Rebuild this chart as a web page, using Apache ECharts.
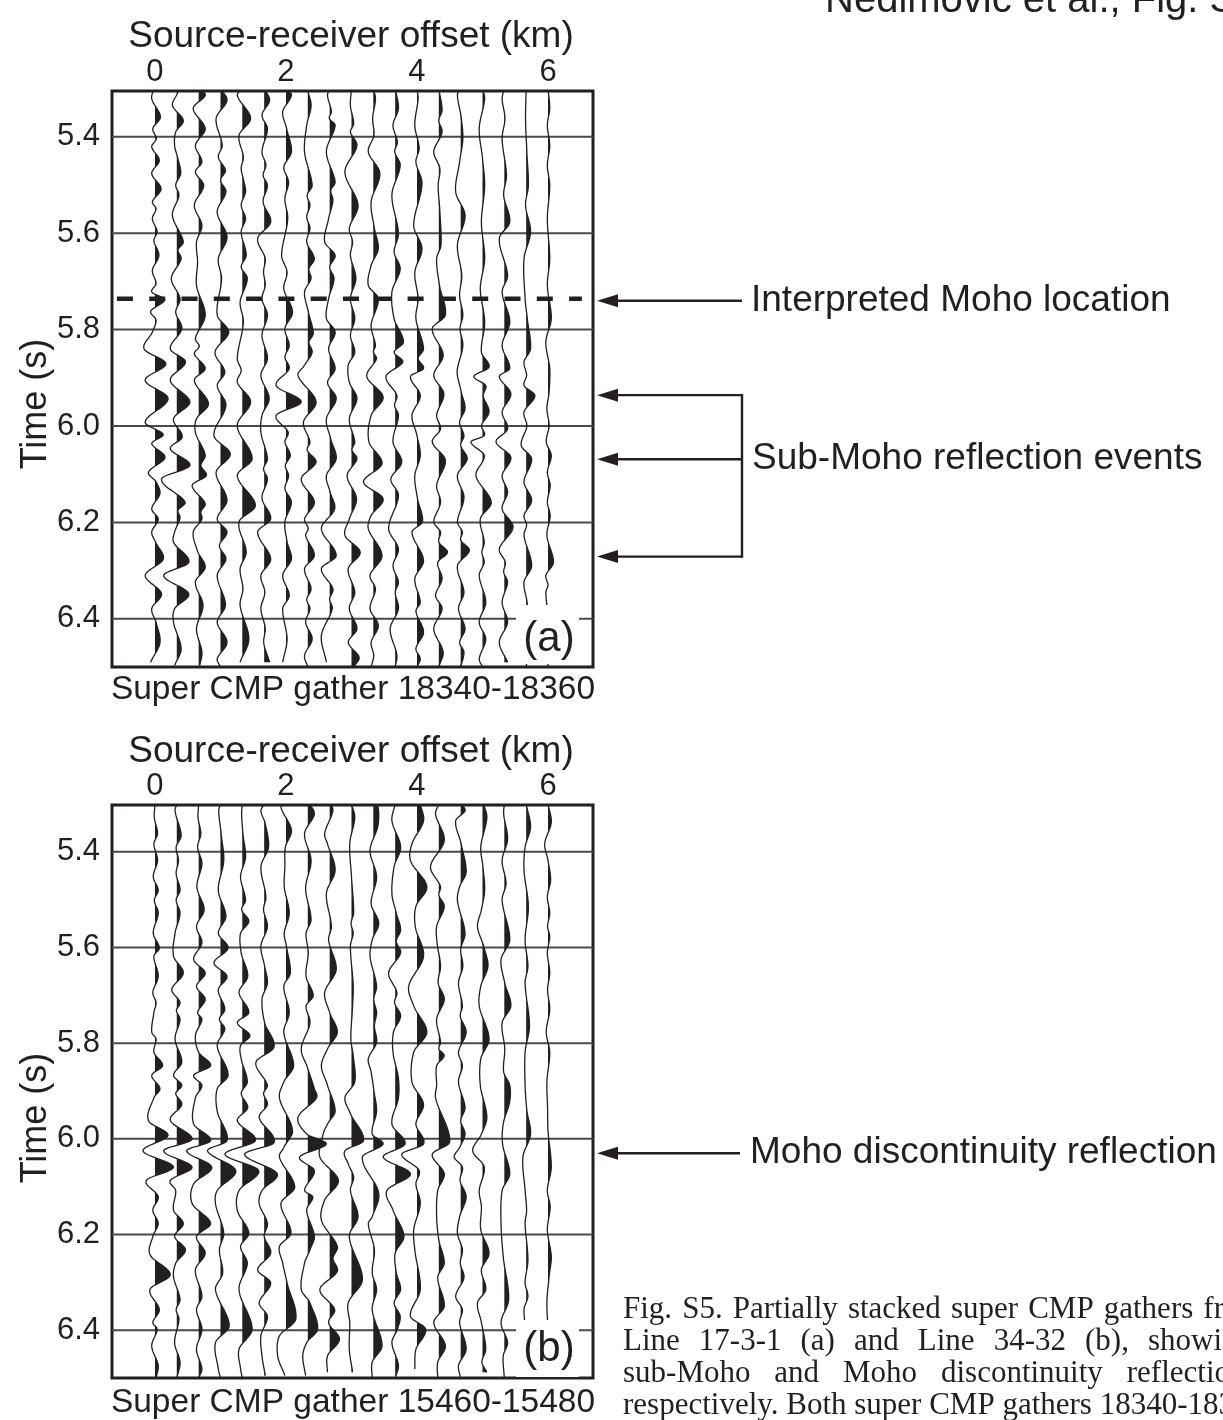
<!DOCTYPE html>
<html><head><meta charset="utf-8">
<script src="https://cdn.jsdelivr.net/npm/echarts@6/dist/echarts.min.js"></script>
<style>html,body{margin:0;padding:0;background:#fff}#c{width:1223px;height:1420px}</style>
</head><body><div id="c"></div>
<script>
// ---------- data ----------
const offsetTicks = [0, 2, 4, 6];                 // km
const timeTicks = [5.4, 5.6, 5.8, 6.0, 6.2, 6.4];   // s
const traceOffsets = [0, 0.333, 0.667, 1, 1.333, 1.667, 2, 2.333, 2.667, 3, 3.333, 3.667, 4, 4.333, 4.667, 5, 5.333, 5.667, 6];
const mohoPickA = 5.736;                 // interpreted Moho (dashed line, panel a)
const subMohoEventsA = [5.936, 6.069, 6.271];
const mohoReflectionB = 6.03;

// each trace: [time (s), amplitude (in trace spacings, +right)]
const A0=[[5.30,-0.05],[5.321,-0.15],[5.359,0.25],[5.383,-0.1],[5.404,0.06],[5.421,-0.15],[5.449,0.2],[5.476,-0.15],[5.508,0.28],[5.535,-0.12],[5.549,0.05],[5.570,-0.12],[5.597,0.1],[5.615,-0.05],[5.646,0.18],[5.677,-0.12],[5.705,0.05],[5.722,-0.15],[5.738,0.45],[5.762,-0.2],[5.780,0.05],[5.805,-0.12],[5.840,-0.5],[5.871,0.5],[5.905,-0.45],[5.943,0.6],[5.992,-0.45],[6.018,0.38],[6.036,-0.15],[6.065,0.46],[6.096,-0.3],[6.116,0.05],[6.14,0.23],[6.172,-0.15],[6.193,0.15],[6.22,-0.15],[6.241,0.03],[6.276,0.38],[6.31,-0.45],[6.348,0.3],[6.379,-0.15],[6.407,0.05],[6.449,0.23],[6.49,-0.2]];
const A1=[[5.30,0.0],[5.307,0.05],[5.335,-0.2],[5.366,0.3],[5.39,-0.05],[5.418,-0.1],[5.445,0.05],[5.476,0.18],[5.50,-0.05],[5.521,0.1],[5.563,-0.2],[5.618,0.3],[5.635,0.05],[5.653,0.2],[5.694,-0.25],[5.736,0.15],[5.764,-0.05],[5.798,0.23],[5.840,-0.3],[5.867,0.4],[5.905,-0.3],[5.950,0.6],[5.985,-0.15],[6.023,0.25],[6.047,-0.3],[6.082,0.6],[6.11,-0.7],[6.158,0.38],[6.175,0.05],[6.19,0.15],[6.22,-0.1],[6.241,-0.15],[6.283,0.55],[6.31,-0.6],[6.348,0.55],[6.379,-0.1],[6.407,-0.15],[6.462,0.2],[6.497,-0.1]];
const A2=[[5.30,0.1],[5.314,0.3],[5.341,-0.25],[5.383,0.3],[5.418,-0.15],[5.452,0.15],[5.473,-0.15],[5.501,0.23],[5.542,-0.2],[5.584,0.15],[5.618,-0.1],[5.66,-0.05],[5.708,-0.1],[5.770,0.3],[5.819,-0.15],[5.835,0.03],[5.850,-0.2],[5.881,0.3],[5.905,-0.2],[5.954,0.45],[5.985,-0.1],[6.013,-0.15],[6.061,0.3],[6.082,0.1],[6.103,0.35],[6.123,-0.3],[6.161,0.3],[6.178,0.1],[6.193,0.15],[6.22,-0.25],[6.26,-0.05],[6.293,0.3],[6.324,-0.15],[6.372,0.2],[6.421,-0.1],[6.469,0.15],[6.497,0.05]];
const A3=[[5.30,0.0],[5.324,0.3],[5.362,-0.2],[5.418,0.08],[5.442,-0.1],[5.470,0.23],[5.49,0.0],[5.514,0.25],[5.556,-0.15],[5.608,0.3],[5.653,-0.1],[5.694,0.05],[5.770,-0.15],[5.805,0.38],[5.847,-0.25],[5.888,0.2],[5.916,-0.15],[5.957,0.25],[6.020,-0.3],[6.058,0.45],[6.096,-0.2],[6.154,0.3],[6.193,-0.15],[6.22,0.3],[6.248,-0.05],[6.276,0.25],[6.31,-0.15],[6.372,0.23],[6.407,-0.15],[6.449,0.3],[6.483,-0.15],[6.50,0.0]];
const A4=[[5.30,0.0],[5.314,-0.23],[5.362,0.38],[5.397,-0.15],[5.442,0.05],[5.466,-0.05],[5.494,0.08],[5.514,0.15],[5.542,-0.05],[5.570,0.15],[5.597,-0.05],[5.646,0.18],[5.67,-0.05],[5.694,0.23],[5.743,-0.1],[5.784,0.05],[5.860,-0.23],[5.885,-0.05],[5.909,-0.23],[5.950,0.38],[5.999,-0.23],[6.068,0.45],[6.103,-0.23],[6.165,0.6],[6.199,-0.15],[6.262,0.18],[6.296,-0.1],[6.338,0.03],[6.372,-0.1],[6.442,0.3],[6.490,-0.1]];
const A5=[[5.30,0.0],[5.324,0.25],[5.355,-0.1],[5.383,0.15],[5.431,-0.1],[5.459,0.08],[5.48,-0.05],[5.501,0.15],[5.535,-0.05],[5.577,0.3],[5.611,-0.3],[5.653,0.05],[5.68,-0.03],[5.708,0.05],[5.736,-0.1],[5.770,0.15],[5.812,-0.1],[5.860,0.15],[5.895,-0.15],[5.943,0.23],[5.978,-0.1],[6.013,-0.15],[6.068,0.15],[6.089,-0.03],[6.11,0.15],[6.15,-0.1],[6.193,0.3],[6.22,-0.3],[6.276,0.3],[6.31,-0.15],[6.345,0.03],[6.379,-0.15],[6.42,0.05],[6.45,-0.02],[6.490,0.25]];
const A6=[[5.30,0.05],[5.314,0.25],[5.348,-0.15],[5.383,0.03],[5.431,0.25],[5.463,-0.1],[5.494,0.12],[5.528,-0.05],[5.570,0.08],[5.646,-0.2],[5.681,0.05],[5.715,-0.1],[5.764,0.3],[5.798,-0.05],[5.833,0.15],[5.857,-0.05],[5.881,0.15],[5.916,-0.45],[5.950,0.7],[5.978,-0.45],[6.013,0.1],[6.033,-0.05],[6.061,0.2],[6.082,-0.03],[6.103,0.12],[6.130,-0.05],[6.158,0.25],[6.199,-0.05],[6.24,0.05],[6.276,0.25],[6.31,-0.15],[6.352,0.15],[6.379,-0.15],[6.442,0.05],[6.490,-0.15]];
const A7=[[5.30,-0.03],[5.335,0.15],[5.376,-0.05],[5.431,-0.15],[5.501,0.2],[5.521,-0.03],[5.542,0.1],[5.566,-0.05],[5.590,0.1],[5.618,-0.05],[5.653,0.3],[5.674,0.05],[5.694,0.15],[5.722,-0.15],[5.764,0.03],[5.808,0.25],[5.826,0.05],[5.847,0.2],[5.874,-0.15],[5.895,-0.45],[5.950,0.38],[5.992,-0.2],[6.033,0.1],[6.05,-0.03],[6.075,0.38],[6.11,-0.3],[6.158,0.3],[6.193,-0.15],[6.213,0.02],[6.227,-0.1],[6.269,0.3],[6.296,-0.15],[6.338,0.15],[6.36,-0.05],[6.379,0.1],[6.407,-0.1],[6.442,0.2],[6.476,-0.15],[6.50,0.0]];
const A8=[[5.30,0.0],[5.314,-0.1],[5.348,0.08],[5.362,-0.02],[5.376,0.25],[5.431,-0.15],[5.494,0.25],[5.511,0.05],[5.532,0.15],[5.570,-0.05],[5.618,-0.23],[5.646,0.25],[5.670,0.0],[5.694,0.2],[5.736,-0.05],[5.777,-0.15],[5.805,0.25],[5.840,-0.05],[5.881,0.25],[5.910,-0.1],[5.943,0.3],[5.985,-0.15],[6.027,0.05],[6.068,0.3],[6.103,-0.15],[6.137,0.02],[6.172,0.23],[6.213,-0.38],[6.269,0.3],[6.296,-0.38],[6.338,0.15],[6.359,0.0],[6.379,0.12],[6.435,-0.38],[6.490,-0.15]];
const A9=[[5.30,0.0],[5.335,-0.05],[5.373,0.1],[5.390,-0.05],[5.418,0.25],[5.473,-0.3],[5.542,0.3],[5.590,-0.1],[5.618,0.05],[5.646,-0.05],[5.694,0.2],[5.736,-0.05],[5.777,0.15],[5.812,-0.05],[5.847,0.15],[5.874,-0.15],[5.909,-0.1],[5.943,0.25],[5.985,-0.1],[6.033,0.15],[6.05,0.02],[6.068,0.25],[6.103,-0.2],[6.151,0.23],[6.193,-0.1],[6.227,-0.3],[6.262,0.4],[6.296,-0.15],[6.345,0.15],[6.379,-0.1],[6.421,0.25],[6.449,-0.15],[6.48,0.35],[6.50,0.1]];
const A10=[[5.30,0.0],[5.321,0.1],[5.362,-0.03],[5.397,0.03],[5.431,-0.23],[5.476,0.3],[5.535,-0.1],[5.590,0.05],[5.632,0.23],[5.667,-0.1],[5.708,-0.23],[5.736,0.23],[5.791,-0.1],[5.833,0.1],[5.847,0.0],[5.860,0.15],[5.897,-0.3],[5.940,0.45],[5.978,-0.1],[6.033,-0.2],[6.078,0.4],[6.116,-0.45],[6.151,0.45],[6.186,-0.1],[6.213,-0.23],[6.269,0.4],[6.31,-0.15],[6.338,0.1],[6.379,-0.15],[6.414,0.23],[6.449,-0.1],[6.476,0.02],[6.50,-0.1]];
const A11=[[5.30,0.0],[5.341,0.15],[5.376,-0.1],[5.411,0.1],[5.431,-0.02],[5.459,0.23],[5.521,-0.15],[5.601,0.15],[5.639,-0.05],[5.674,0.23],[5.722,-0.15],[5.777,-0.05],[5.826,0.38],[5.847,-0.05],[5.867,0.35],[5.897,-0.42],[5.937,0.08],[5.957,-0.03],[5.978,0.15],[6.033,-0.1],[6.075,0.3],[6.11,-0.2],[6.144,0.15],[6.213,-0.3],[6.255,0.15],[6.29,-0.1],[6.324,0.15],[6.345,0.0],[6.379,0.15],[6.421,-0.23],[6.476,0.08],[6.50,0.0]];
const A12=[[5.30,0.0],[5.321,0.05],[5.376,-0.1],[5.424,0.1],[5.452,-0.05],[5.497,0.23],[5.584,-0.15],[5.632,0.23],[5.681,-0.1],[5.736,0.05],[5.777,-0.05],[5.840,0.3],[5.860,0.05],[5.881,0.3],[5.897,-0.3],[5.937,0.15],[5.978,-0.23],[6.02,0.0],[6.061,0.15],[6.103,-0.1],[6.15,0.02],[6.199,0.25],[6.22,-0.23],[6.279,0.3],[6.317,-0.1],[6.366,0.15],[6.384,-0.05],[6.428,0.3],[6.462,-0.05],[6.483,0.15],[6.50,0.0]];
const A13=[[5.30,0.0],[5.345,0.15],[5.366,0.0],[5.390,0.15],[5.431,-0.23],[5.466,0.05],[5.501,-0.03],[5.556,0.05],[5.625,0.1],[5.653,-0.1],[5.708,0.03],[5.770,0.3],[5.798,-0.3],[5.853,0.2],[5.895,-0.23],[5.933,0.23],[5.978,-0.1],[6.006,0.08],[6.033,-0.3],[6.071,0.3],[6.123,-0.1],[6.158,0.08],[6.199,-0.23],[6.22,0.08],[6.241,0.0],[6.262,0.4],[6.283,-0.05],[6.317,0.15],[6.352,-0.15],[6.379,0.15],[6.421,-0.23],[6.469,0.2],[6.50,0.0]];
const A14=[[5.30,-0.05],[5.314,-0.15],[5.362,0.03],[5.404,0.1],[5.452,-0.05],[5.514,-0.23],[5.563,0.2],[5.625,-0.15],[5.688,0.05],[5.729,-0.05],[5.770,0.1],[5.798,-0.03],[5.833,0.1],[5.881,-0.15],[5.895,-0.15],[5.93,0.03],[5.964,0.2],[5.992,-0.05],[6.020,0.15],[6.040,0.0],[6.068,0.3],[6.103,-0.15],[6.148,0.15],[6.199,-0.15],[6.22,0.08],[6.237,0.0],[6.258,0.4],[6.29,-0.15],[6.345,0.15],[6.379,-0.1],[6.421,0.2],[6.449,-0.05],[6.469,0.15],[6.50,0.0]];
const A15=[[5.30,0.0],[5.321,0.1],[5.383,-0.15],[5.445,0.0],[5.501,0.1],[5.577,-0.05],[5.653,0.1],[5.715,-0.1],[5.784,0.1],[5.847,-0.05],[5.878,0.3],[5.897,-0.4],[5.916,0.15],[5.937,0.03],[5.971,0.3],[5.999,-0.05],[6.020,0.08],[6.033,-0.53],[6.061,0.08],[6.103,-0.3],[6.158,0.4],[6.193,-0.1],[6.241,0.08],[6.262,-0.03],[6.283,0.08],[6.31,-0.15],[6.366,0.15],[6.407,-0.15],[6.442,0.15],[6.483,-0.15],[6.50,0.0]];
const A16=[[5.30,0.0],[5.321,-0.1],[5.362,0.03],[5.404,-0.1],[5.480,0.1],[5.521,-0.03],[5.577,0.25],[5.611,-0.23],[5.688,0.15],[5.722,-0.1],[5.784,0.25],[5.833,-0.1],[5.881,0.25],[5.897,-0.23],[5.933,0.3],[5.971,-0.1],[6.006,0.15],[6.033,-0.38],[6.065,0.3],[6.103,-0.1],[6.137,0.15],[6.172,-0.1],[6.21,0.4],[6.255,-0.23],[6.283,0.05],[6.303,-0.03],[6.324,0.15],[6.366,-0.1],[6.407,0.15],[6.449,-0.23],[6.490,0.15]];
const A17=[[5.30,0.0],[5.362,-0.03],[5.431,0.03],[5.501,0.1],[5.542,-0.03],[5.597,0.2],[5.653,-0.1],[5.736,-0.05],[5.777,0.05],[5.840,0.2],[5.867,-0.1],[5.895,0.02],[5.916,-0.1],[5.937,0.4],[5.971,-0.1],[6.000,0.03],[6.040,-0.23],[6.068,0.25],[6.116,-0.1],[6.154,0.25],[6.186,-0.1],[6.205,0.02],[6.227,-0.1],[6.29,0.25],[6.324,-0.1],[6.372,0.05],[6.42,-0.1],[6.46,0.1],[6.50,0.0]];
const A18=[[5.30,0.0],[5.341,0.08],[5.376,-0.03],[5.418,0.08],[5.459,-0.03],[5.501,0.08],[5.570,-0.03],[5.653,0.08],[5.708,-0.03],[5.777,0.15],[5.826,-0.1],[5.881,0.08],[5.930,0.05],[5.964,-0.05],[5.999,0.05],[6.033,-0.08],[6.061,0.15],[6.096,-0.03],[6.123,0.1],[6.158,-0.03],[6.186,0.1],[6.227,-0.05],[6.283,0.25],[6.31,-0.1],[6.33,0.0],[6.345,-0.1],[6.40,0.02],[6.45,0.05],[6.50,0.0]];

const B0=[[5.30,0.0],[5.328,-0.03],[5.362,0.12],[5.383,-0.05],[5.418,0.12],[5.452,-0.08],[5.480,0.15],[5.501,-0.03],[5.528,0.15],[5.570,-0.08],[5.601,0.2],[5.618,-0.05],[5.660,0.15],[5.694,-0.1],[5.715,0.05],[5.736,-0.05],[5.777,-0.15],[5.791,0.05],[5.819,-0.05],[5.847,0.35],[5.867,-0.15],[5.895,0.23],[5.914,-0.05],[5.962,-0.3],[5.993,0.6],[6.025,-0.55],[6.059,0.85],[6.087,-0.4],[6.121,0.15],[6.149,-0.1],[6.177,0.15],[6.204,-0.1],[6.242,-0.23],[6.284,0.7],[6.315,-0.23],[6.357,0.2],[6.384,-0.1],[6.398,0.1],[6.433,-0.15],[6.474,0.15],[6.50,0.05]];
const B1=[[5.30,0.0],[5.314,-0.08],[5.366,0.2],[5.390,-0.03],[5.418,0.08],[5.445,-0.03],[5.480,0.15],[5.501,-0.03],[5.528,0.15],[5.570,-0.08],[5.618,-0.15],[5.653,0.3],[5.688,-0.23],[5.715,0.15],[5.732,-0.02],[5.750,0.15],[5.791,-0.08],[5.840,0.23],[5.867,-0.15],[5.888,0.23],[5.905,-0.05],[5.928,0.23],[5.961,-0.3],[6.001,0.7],[6.025,-0.6],[6.059,0.7],[6.087,-0.3],[6.108,-0.05],[6.149,-0.15],[6.177,0.3],[6.204,-0.1],[6.232,0.4],[6.26,-0.05],[6.288,-0.15],[6.336,0.15],[6.357,-0.03],[6.377,0.1],[6.426,-0.1],[6.467,0.15],[6.50,0.0]];
const B2=[[5.30,0.0],[5.328,-0.03],[5.362,0.1],[5.390,-0.05],[5.424,0.15],[5.473,-0.08],[5.521,0.25],[5.556,-0.1],[5.590,0.15],[5.625,-0.23],[5.653,0.3],[5.681,-0.1],[5.708,0.3],[5.736,-0.05],[5.750,0.15],[5.784,-0.15],[5.819,0.0],[5.847,0.55],[5.867,-0.23],[5.888,0.15],[5.914,-0.15],[5.969,-0.23],[6.004,0.55],[6.025,-0.55],[6.059,0.6],[6.094,-0.23],[6.135,-0.3],[6.177,0.55],[6.204,-0.1],[6.239,0.3],[6.274,-0.15],[6.329,0.15],[6.357,-0.1],[6.398,0.15],[6.44,-0.1],[6.481,0.15],[6.50,0.0]];
const B3=[[5.30,0.0],[5.314,-0.08],[5.362,0.03],[5.418,0.15],[5.480,-0.1],[5.535,0.25],[5.570,-0.1],[5.601,0.35],[5.632,-0.3],[5.660,0.3],[5.688,-0.1],[5.729,0.2],[5.750,-0.05],[5.770,0.2],[5.805,-0.15],[5.867,0.35],[5.895,-0.15],[5.942,-0.15],[6.004,0.3],[6.025,-0.6],[6.066,0.7],[6.108,-0.15],[6.135,-0.23],[6.197,0.15],[6.232,-0.05],[6.281,0.1],[6.315,-0.23],[6.391,0.4],[6.426,-0.23],[6.481,-0.1],[6.50,0.0]];
const B4=[[5.30,0.0],[5.321,-0.03],[5.362,0.03],[5.411,0.15],[5.452,-0.08],[5.501,0.15],[5.521,-0.03],[5.545,0.3],[5.570,-0.08],[5.611,-0.05],[5.660,0.25],[5.694,-0.15],[5.736,0.3],[5.757,-0.23],[5.784,0.35],[5.805,-0.08],[5.833,-0.05],[5.881,0.23],[5.905,-0.05],[5.935,0.25],[5.962,-0.23],[6.004,0.6],[6.032,-0.8],[6.066,0.75],[6.108,-0.15],[6.149,-0.23],[6.197,0.3],[6.225,-0.08],[6.26,0.23],[6.315,-0.15],[6.398,0.45],[6.44,-0.15],[6.481,-0.08],[6.50,0.0]];
const B5=[[5.30,0.0],[5.314,-0.15],[5.341,0.05],[5.390,0.2],[5.431,-0.15],[5.494,0.08],[5.521,-0.03],[5.556,0.15],[5.597,-0.15],[5.639,0.02],[5.674,0.15],[5.708,-0.1],[5.757,0.02],[5.808,0.45],[5.840,-0.38],[5.888,0.15],[5.905,-0.03],[5.928,0.15],[5.955,-0.23],[6.008,0.45],[6.032,-0.9],[6.073,0.6],[6.108,-0.1],[6.135,-0.23],[6.177,0.15],[6.204,0.0],[6.239,0.3],[6.274,-0.3],[6.301,0.3],[6.343,-0.23],[6.371,0.15],[6.412,-0.15],[6.454,-0.1],[6.495,0.05]];
const B6=[[5.30,-0.1],[5.307,-0.23],[5.355,0.25],[5.390,-0.03],[5.431,-0.05],[5.473,-0.08],[5.528,0.15],[5.570,-0.08],[5.597,0.02],[5.653,0.2],[5.681,-0.1],[5.736,0.15],[5.777,-0.1],[5.847,0.35],[5.881,-0.1],[5.914,-0.3],[5.983,0.3],[6.018,-0.1],[6.038,-0.3],[6.101,0.4],[6.135,-0.23],[6.197,0.23],[6.225,-0.3],[6.26,-0.15],[6.301,0.05],[6.377,0.45],[6.412,-0.3],[6.454,-0.38],[6.495,-0.05]];
const B7=[[5.30,0.1],[5.321,0.3],[5.362,-0.15],[5.418,0.15],[5.476,-0.1],[5.542,0.15],[5.570,-0.08],[5.611,0.02],[5.660,-0.08],[5.701,0.25],[5.722,-0.08],[5.757,0.1],[5.812,-0.3],[5.853,0.0],[5.895,0.3],[5.914,0.4],[5.955,-0.45],[5.99,-0.05],[6.011,0.85],[6.038,-0.38],[6.066,0.3],[6.108,-0.15],[6.121,0.23],[6.149,-0.05],[6.204,0.3],[6.232,0.1],[6.26,-0.15],[6.315,-0.3],[6.343,0.1],[6.398,0.45],[6.426,-0.05],[6.454,-0.23],[6.495,-0.1]];
const B8=[[5.30,0.05],[5.314,0.15],[5.362,-0.23],[5.383,-0.1],[5.438,0.25],[5.487,-0.15],[5.556,0.08],[5.584,-0.05],[5.646,0.3],[5.694,-0.23],[5.736,0.0],[5.777,0.35],[5.812,-0.1],[5.847,-0.38],[5.888,-0.1],[5.942,0.25],[5.969,-0.1],[5.99,-0.3],[6.038,-0.45],[6.087,0.4],[6.128,-0.23],[6.17,-0.38],[6.225,0.35],[6.25,0.15],[6.277,0.35],[6.315,-0.45],[6.357,0.23],[6.384,-0.05],[6.419,0.45],[6.454,-0.1],[6.488,-0.1]];
const B9=[[5.30,0.0],[5.328,0.15],[5.383,-0.08],[5.452,0.0],[5.528,0.1],[5.549,-0.02],[5.570,0.08],[5.597,-0.05],[5.681,0.08],[5.722,0.05],[5.791,-0.03],[5.826,0.08],[5.881,0.15],[5.914,-0.3],[5.947,-0.05],[6.004,0.55],[6.025,-0.3],[6.052,-0.15],[6.08,0.1],[6.108,-0.05],[6.163,0.3],[6.204,-0.1],[6.294,0.5],[6.343,-0.15],[6.384,-0.08],[6.44,-0.1],[6.488,0.05]];
const B10=[[5.30,0.2],[5.321,0.25],[5.348,0.2],[5.397,-0.15],[5.452,0.15],[5.508,-0.1],[5.549,0.25],[5.584,-0.05],[5.618,-0.15],[5.681,0.15],[5.708,0.02],[5.736,0.15],[5.764,0.05],[5.798,0.15],[5.833,-0.23],[5.860,-0.1],[5.90,0.03],[5.942,0.15],[5.99,-0.05],[6.011,0.45],[6.038,-0.5],[6.114,0.25],[6.163,-0.05],[6.177,-0.23],[6.232,0.05],[6.28,-0.05],[6.315,0.15],[6.357,-0.05],[6.433,0.4],[6.467,-0.05],[6.50,-0.05]];
const B11=[[5.30,0.0],[5.335,-0.15],[5.390,0.25],[5.431,-0.05],[5.487,-0.15],[5.528,0.05],[5.563,0.25],[5.587,0.05],[5.611,0.25],[5.653,-0.3],[5.694,0.08],[5.715,-0.03],[5.743,0.25],[5.777,-0.08],[5.819,-0.1],[5.874,0.15],[5.914,0.15],[5.969,-0.15],[6.011,0.45],[6.038,-0.55],[6.073,0.7],[6.108,-0.38],[6.149,-0.1],[6.204,0.4],[6.239,0.0],[6.28,0.05],[6.315,0.25],[6.343,-0.05],[6.371,0.23],[6.398,0.1],[6.426,-0.15],[6.474,0.15],[6.50,0.0]];
const B12=[[5.30,0.15],[5.335,0.3],[5.383,-0.23],[5.418,-0.3],[5.473,0.45],[5.514,-0.05],[5.556,-0.08],[5.618,0.3],[5.681,-0.38],[5.722,-0.15],[5.777,0.45],[5.819,-0.15],[5.881,-0.23],[5.928,0.3],[5.969,-0.05],[6.011,0.3],[6.032,-0.7],[6.066,0.1],[6.094,-0.05],[6.135,0.15],[6.19,-0.15],[6.232,-0.1],[6.315,0.15],[6.371,-0.3],[6.398,0.4],[6.44,-0.05],[6.481,-0.1]];
const B13=[[5.30,0.0],[5.321,-0.15],[5.376,0.25],[5.431,-0.38],[5.473,0.08],[5.49,0.0],[5.514,0.25],[5.556,-0.1],[5.590,-0.08],[5.639,0.08],[5.674,-0.03],[5.708,0.25],[5.750,-0.1],[5.798,0.08],[5.812,0.0],[5.826,0.25],[5.847,-0.1],[5.888,-0.1],[5.914,-0.15],[6.007,0.5],[6.032,-0.3],[6.073,0.25],[6.108,-0.05],[6.163,-0.1],[6.211,0.0],[6.26,0.25],[6.29,-0.05],[6.35,0.25],[6.384,-0.23],[6.433,0.3],[6.467,-0.05],[6.50,-0.05]];
const B14=[[5.30,0.05],[5.314,0.2],[5.335,-0.23],[5.383,0.02],[5.442,0.25],[5.473,-0.05],[5.501,-0.15],[5.570,0.2],[5.604,0.0],[5.639,0.1],[5.674,-0.1],[5.722,0.08],[5.743,-0.02],[5.777,0.25],[5.819,-0.1],[5.847,0.08],[5.881,-0.1],[5.935,0.2],[5.962,0.0],[5.99,0.2],[6.018,-0.05],[6.038,-0.3],[6.059,0.08],[6.087,-0.03],[6.121,0.25],[6.163,-0.05],[6.197,-0.15],[6.232,0.08],[6.26,-0.02],[6.29,0.15],[6.329,-0.23],[6.357,0.08],[6.384,-0.05],[6.44,0.25],[6.474,-0.1],[6.50,0.0]];
const B15=[[5.30,0.05],[5.328,0.2],[5.390,-0.08],[5.431,0.02],[5.480,0.1],[5.521,-0.05],[5.556,-0.23],[5.597,0.05],[5.639,0.25],[5.681,-0.08],[5.722,-0.15],[5.791,0.3],[5.833,-0.08],[5.888,-0.1],[5.955,0.2],[5.99,-0.05],[6.025,-0.45],[6.059,0.08],[6.108,-0.15],[6.142,-0.05],[6.19,-0.08],[6.239,0.3],[6.274,-0.05],[6.315,0.15],[6.343,-0.23],[6.384,-0.05],[6.44,0.15],[6.467,-0.03],[6.488,0.2]];
const B16=[[5.30,0.0],[5.321,-0.03],[5.373,0.15],[5.418,-0.1],[5.466,0.08],[5.501,-0.1],[5.584,0.25],[5.625,-0.15],[5.674,0.02],[5.722,0.3],[5.757,-0.1],[5.812,0.02],[5.860,-0.03],[5.888,0.25],[5.921,0.25],[5.969,-0.05],[6.011,-0.08],[6.073,0.25],[6.108,-0.1],[6.177,-0.15],[6.246,-0.05],[6.336,0.2],[6.384,-0.15],[6.426,0.15],[6.454,-0.05],[6.50,0.0]];
const B17=[[5.30,0.0],[5.348,0.2],[5.390,-0.05],[5.438,-0.1],[5.514,0.1],[5.584,-0.05],[5.639,0.08],[5.674,-0.05],[5.764,0.15],[5.819,-0.05],[5.888,-0.05],[5.94,0.03],[5.990,0.2],[6.038,-0.15],[6.108,-0.05],[6.15,0.02],[6.177,-0.05],[6.253,0.08],[6.301,-0.05],[6.329,0.08],[6.357,-0.1],[6.42,0.02],[6.50,0.0]];
const B18=[[5.30,0.0],[5.338,0.15],[5.383,-0.15],[5.418,0.0],[5.459,0.12],[5.494,-0.03],[5.528,0.08],[5.556,-0.02],[5.577,0.08],[5.611,-0.03],[5.653,0.08],[5.688,-0.02],[5.729,0.08],[5.777,-0.08],[5.819,0.08],[5.881,-0.05],[5.935,-0.02],[5.983,0.0],[6.059,0.15],[6.108,-0.03],[6.142,0.1],[6.19,-0.03],[6.246,0.15],[6.288,0.05],[6.343,-0.05],[6.42,0.02],[6.50,0.0]];

const gatherA = [A0,A1,A2,A3,A4,A5,A6,A7,A8,A9,A10,A11,A12,A13,A14,A15,A16,A17,A18];
const gatherB = [B0,B1,B2,B3,B4,B5,B6,B7,B8,B9,B10,B11,B12,B13,B14,B15,B16,B17,B18];

const captionLines = [
  "Fig. S5. Partially stacked super CMP gathers fr",
  "Line 17-3-1 (a) and Line 34-32 (b), showi",
  "sub-Moho and Moho discontinuity reflectio",
  "respectively. Both super CMP gathers 18340-183"
];

// ---------- rendering ----------
const INK = '#231f20';
const SANS = '"Liberation Sans", Arial, Helvetica, sans-serif';
const SERIF = '"Liberation Serif", "Times New Roman", serif';
const SPACING = 1 / 3;           // trace spacing, km
const X_MIN = -0.656, X_MAX = 6.687;
const TENSION = 0.9;

// smooth drawing path through the projected points (x as a function of y)
function smoothPath(P) {
  const n = P.length, out = [];
  const m = P.map((p, k) => {
    const a = P[Math.max(0, k - 1)], b = P[Math.min(n - 1, k + 1)];
    const dy = b[1] - a[1];
    return dy ? TENSION * (b[0] - a[0]) / dy : 0;
  });
  for (let k = 0; k < n - 1; k++) {
    const y0 = P[k][1], y1 = P[k + 1][1], h = y1 - y0;
    const x0 = P[k][0], x1 = P[k + 1][0];
    const steps = Math.max(2, Math.ceil(Math.abs(h) / 1.5));
    for (let s = 0; s < steps; s++) {
      const u = s / steps, u2 = u * u, u3 = u2 * u;
      const x = (2 * u3 - 3 * u2 + 1) * x0 + (u3 - 2 * u2 + u) * h * m[k] + (-2 * u3 + 3 * u2) * x1 + (u3 - u2) * h * m[k + 1];
      out.push([x, y0 + u * h]);
    }
  }
  out.push(P[n - 1]);
  return out;
}

function makeRender(traces) {
  return function (params, api) {
    const i = params.dataIndex;
    const x0 = api.value(0);
    const tr = traces[i];
    const pts = smoothPath(tr.map(p => api.coord([x0 + p[1] * SPACING, p[0]])));
    const bx = api.coord([x0, tr[0][0]])[0];
    const children = [];
    let lobe = null;
    for (let k = 0; k < pts.length; k++) {
      const p = pts[k];
      if (p[0] > bx) {
        if (!lobe) {
          if (k > 0) {
            const q = pts[k - 1];
            const yc = q[1] + (p[1] - q[1]) * (bx - q[0]) / (p[0] - q[0]);
            lobe = [[bx, yc]];
          } else lobe = [[bx, p[1]]];
        }
        lobe.push(p);
      } else if (lobe) {
        const q = pts[k - 1];
        const yc = q[1] + (p[1] - q[1]) * (q[0] - bx) / (q[0] - p[0]);
        lobe.push([bx, yc]);
        children.push({ type: 'polygon', shape: { points: lobe }, style: { fill: INK, stroke: null } });
        lobe = null;
      }
    }
    if (lobe) {
      lobe.push([bx, pts[pts.length - 1][1]]);
      children.push({ type: 'polygon', shape: { points: lobe }, style: { fill: INK, stroke: null } });
    }
    children.push({ type: 'polyline', shape: { points: pts }, style: { stroke: INK, lineWidth: 1.3, fill: null } });
    return { type: 'group', children: children };
  };
}

const grids = [
  { left: 112, top: 91, width: 481, height: 576, show: true, borderColor: INK, borderWidth: 3, backgroundColor: 'transparent' },
  { left: 112, top: 805, width: 481, height: 573, show: true, borderColor: INK, borderWidth: 3, backgroundColor: 'transparent' }
];
const yRanges = [[5.305, 6.50], [5.302, 6.50]];

const xAxes = [0, 1].map(g => ({
  type: 'value', gridIndex: g, position: 'top', min: X_MIN, max: X_MAX,
  axisLine: { show: false }, axisTick: { show: false }, splitLine: { show: false },
  axisLabel: { customValues: offsetTicks, fontSize: 31, color: INK, fontFamily: SANS, margin: 3 }
}));
const yAxes = [0, 1].map(g => ({
  type: 'value', gridIndex: g, inverse: true, min: yRanges[g][0], max: yRanges[g][1],
  axisLine: { show: false }, axisTick: { show: false }, splitLine: { show: false },
  axisLabel: { customValues: timeTicks, fontSize: 31, color: INK, fontFamily: SANS, margin: 12,
    formatter: v => v.toFixed(1) }
}));

const series = [];
[gatherA, gatherB].forEach((gather, g) => {
  timeTicks.forEach(t => {
    series.push({
      type: 'line', xAxisIndex: g, yAxisIndex: g, silent: true, showSymbol: false, z: 1,
      data: [[X_MIN, t], [X_MAX, t]],
      lineStyle: { color: '#4a4a4a', width: 2 }
    });
  });
  series.push({
    type: 'custom', xAxisIndex: g, yAxisIndex: g, clip: true, silent: true, z: 3,
    renderItem: makeRender(gather),
    encode: { x: 0, y: 1 },
    data: traceOffsets.map((o, i) => [o, gather[i][0][0]])
  });
});
series.push({
  type: 'line', xAxisIndex: 0, yAxisIndex: 0, silent: true, showSymbol: false, z: 5,
  data: [[X_MIN + 0.075, mohoPickA], [X_MAX - 0.17, mohoPickA]],
  lineStyle: { color: INK, width: 4.5, type: [16, 16.3] }
});

const chart = echarts.init(document.getElementById('c'), null, { renderer: 'canvas' });
chart.setOption({
  animation: false,
  backgroundColor: '#fff',
  grid: grids, xAxis: xAxes, yAxis: yAxes, series: series
});

// ---------- annotations ----------
function txt(text, x, y, size, opts) {
  opts = opts || {};
  return {
    type: 'text', z: 100, x: x, y: y, rotation: opts.rotation || 0,
    style: { text: text, x: 0, y: 0, fill: INK, font: (size) + 'px ' + (opts.family || SANS),
      align: opts.align || 'center', verticalAlign: 'middle',
      textAlign: opts.align || 'center', textVerticalAlign: 'middle' }
  };
}
function arrow(y, xTip, xEnd) {
  return [
    { type: 'line', z: 100, shape: { x1: xTip + 12, y1: y, x2: xEnd, y2: y }, style: { stroke: INK, lineWidth: 2.4 } },
    { type: 'polygon', z: 100, shape: { points: [[xTip, y], [xTip + 21, y - 6.5], [xTip + 21, y + 6.5]] }, style: { fill: INK } }
  ];
}
const yA = t => chart.convertToPixel({ yAxisIndex: 0 }, t);
const yB = t => chart.convertToPixel({ yAxisIndex: 1 }, t);

const g = [];
g.push(txt('Nedimovic et al., Fig. S', 825, 1, 40, { align: 'left' }));
// panel a labels
g.push(txt('Source-receiver offset (km)', 351, 37, 37));
g.push(txt('Super CMP gather 18340-18360', 353, 690, 33.5));
g.push(txt('Time (s)', 36, 404, 36, { rotation: Math.PI / 2 }));
// panel b labels
g.push(txt('Source-receiver offset (km)', 351, 752, 37));
g.push(txt('Super CMP gather 15460-15480', 353, 1403, 33.5));
g.push(txt('Time (s)', 36, 1118, 36, { rotation: Math.PI / 2 }));
// (a), (b) boxes
g.push({ type: 'rect', z: 99, shape: { x: 516, y: 605, width: 63, height: 59 }, style: { fill: '#fff' } });
g.push(txt('(a)', 549, 639, 42));
g.push({ type: 'rect', z: 99, shape: { x: 516, y: 1320, width: 63, height: 57 }, style: { fill: '#fff' } });
g.push(txt('(b)', 549, 1349, 42));
// arrows
const yMoho = yA(mohoPickA) + 2;
g.push(...arrow(yMoho, 597, 742));
g.push(txt('Interpreted Moho location', 751, yMoho, 37, { align: 'left' }));
const subYs = subMohoEventsA.map(yA);
subYs.forEach(y => g.push(...arrow(y, 597, 742)));
g.push({ type: 'line', z: 100, shape: { x1: 742, y1: subYs[0] - 1.2, x2: 742, y2: subYs[2] + 1.2 }, style: { stroke: INK, lineWidth: 2.4 } });
g.push(txt('Sub-Moho reflection events', 752, subYs[1], 37, { align: 'left' }));
const yMb = yB(mohoReflectionB);
g.push(...arrow(yMb, 597, 740));
g.push(txt('Moho discontinuity reflection', 750, yMb, 37, { align: 'left' }));

// caption (justified words)
const ctx = document.createElement('canvas').getContext('2d');
const CAP = 31;
ctx.font = CAP + 'px ' + SERIF;
const capX = 623, capY0 = 1310, capDy = 32;
const capEnds = [1224, 1222, 1230, null];
captionLines.forEach((line, li) => {
  const y = capY0 + li * capDy;
  if (capEnds[li] === null) {
    g.push(txt(line, capX, y, CAP, { align: 'left', family: SERIF }));
    return;
  }
  const words = line.split(' ');
  const widths = words.map(w => ctx.measureText(w).width);
  const total = widths.reduce((s, w) => s + w, 0);
  const gap = (capEnds[li] - capX - total) / (words.length - 1);
  let x = capX;
  words.forEach((w, i) => {
    g.push(txt(w, x, y, CAP, { align: 'left', family: SERIF }));
    x += widths[i] + gap;
  });
});

chart.setOption({ graphic: { elements: g } });
</script>
</body></html>
